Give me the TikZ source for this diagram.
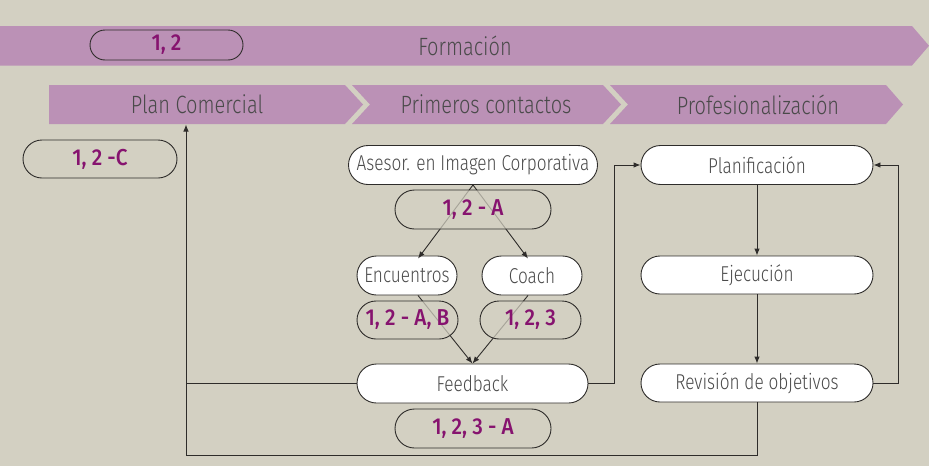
\documentclass[tikz,border=0pt]{standalone}
\usepackage{fontspec}
\setmainfont{Fira Sans}[UprightFont=* Light, FakeStretch=0.8]
\newfontfamily\labfont{Fira Sans}[UprightFont=* Medium, FakeStretch=0.9]
\usetikzlibrary{shapes.misc,arrows.meta}
\definecolor{bg}{HTML}{D3D0C2}
\definecolor{band}{HTML}{BB91B6}
\definecolor{labtxt}{HTML}{86136F}
\definecolor{txt}{HTML}{4A4A4A}
\definecolor{ln}{HTML}{2E2C2A}
\tikzset{
  box/.style={rounded rectangle, draw=ln, line width=0.9pt, fill=white, inner sep=0pt, text=txt, font=\fontsize{21.5}{24}\selectfont},
  lab/.style={rounded rectangle, draw=ln, line width=0.9pt, fill=bg, fill opacity=0.72, text opacity=1, inner sep=0pt, text=labtxt, font=\labfont\fontsize{23}{26}\selectfont},
  bandtxt/.style={text=txt, font=\fontsize{25}{28}\selectfont, inner sep=0pt},
  conn/.style={draw=ln, line width=0.9pt},
  arr/.style={conn, -{Latex[length=7pt,width=5.5pt]}}
}
\begin{document}
\begin{tikzpicture}[x=1pt,y=-1pt]
\useasboundingbox (0,0) rectangle (929,466);
\fill[bg] (0,0) rectangle (929,466);
% bands
\fill[band] (0,26) -- (912,26) -- (929,45.75) -- (912,65.5) -- (0,65.5) -- cycle;
\fill[band] (49,85) -- (345,85) -- (363,104.5) -- (345,124) -- (49,124) -- cycle;
\fill[band] (352,85) -- (603,85) -- (621,104.5) -- (603,124) -- (352,124) -- (370,104.5) -- cycle;
\fill[band] (610,85) -- (886,85) -- (903,104.5) -- (886,124) -- (610,124) -- (628,104.5) -- cycle;
\node[bandtxt] (tform) at (465,45.5) {Formación};
\node[bandtxt] (tplan) at (197,104.5) {Plan Comercial};
\node[bandtxt] (tprim) at (486,104.5) {Primeros contactos};
\node[bandtxt] (tprof) at (758,104.5) {Profesionalización};
\coordinate (pctop) at (186,124.5);
\coordinate (pcbot) at (186,455);
% nodes
\node[box, minimum width=249pt, minimum height=39pt] (asesor) at (473,165) {Asesor. en Imagen Corporativa};
\node[box, minimum width=100pt, minimum height=39pt] (enc) at (407,275.5) {Encuentros};
\node[box, minimum width=100pt, minimum height=39pt] (coach) at (532,275.5) {Coach};
\node[box, minimum width=231pt, minimum height=39pt] (feed) at (472.5,383.5) {Feedback};
\node[box, minimum width=232pt, minimum height=39pt] (plan) at (757,165) {Planificación};
\node[box, minimum width=232pt, minimum height=38pt] (ejec) at (757,275) {Ejecución};
\node[box, minimum width=232pt, minimum height=38pt] (rev) at (757,383) {Revisión de objetivos};
% connectors
\draw[arr] (asesor.south) -- ([xshift=11pt,yshift=-3pt]enc.north);
\draw[arr] (asesor.south) -- ([xshift=-4pt,yshift=-3pt]coach.north);
\draw[arr] ([xshift=11pt]enc.south) -- (feed.north);
\draw[arr] ([xshift=-4pt]coach.south) -- (feed.north);
\draw[arr] (plan.south) -- (ejec.north);
\draw[arr] (ejec.south) -- (rev.north);
\draw[arr] (feed.east) -- ++(26,0) |- (plan.west);
\draw[arr] (rev.east) -- ++(25,0) |- (plan.east);
\draw[arr] (rev.south) |- (pcbot) -- (pctop);
\draw[conn] (feed.west) -- (feed.west -| pcbot);
% labels
\node[lab, fill=none, minimum width=153pt, minimum height=30pt] (l12) at (166.5,45) {1, 2};
\node[lab, minimum width=154pt, minimum height=38pt] (l12c) at (100,159) {1, 2 -C};
\node[lab, minimum width=156pt, minimum height=39pt] (la) at (473,209.5) {1, 2 - A};
\node[lab, minimum width=101pt, minimum height=38pt] (lab2) at (407.5,320) {1, 2 - A, B};
\node[lab, minimum width=101pt, minimum height=38pt] (l123) at (530.5,320) {1, 2, 3};
\node[lab, minimum width=156pt, minimum height=39pt] (l123a) at (473,428.5) {1, 2, 3 - A};
\end{tikzpicture}
\end{document}
